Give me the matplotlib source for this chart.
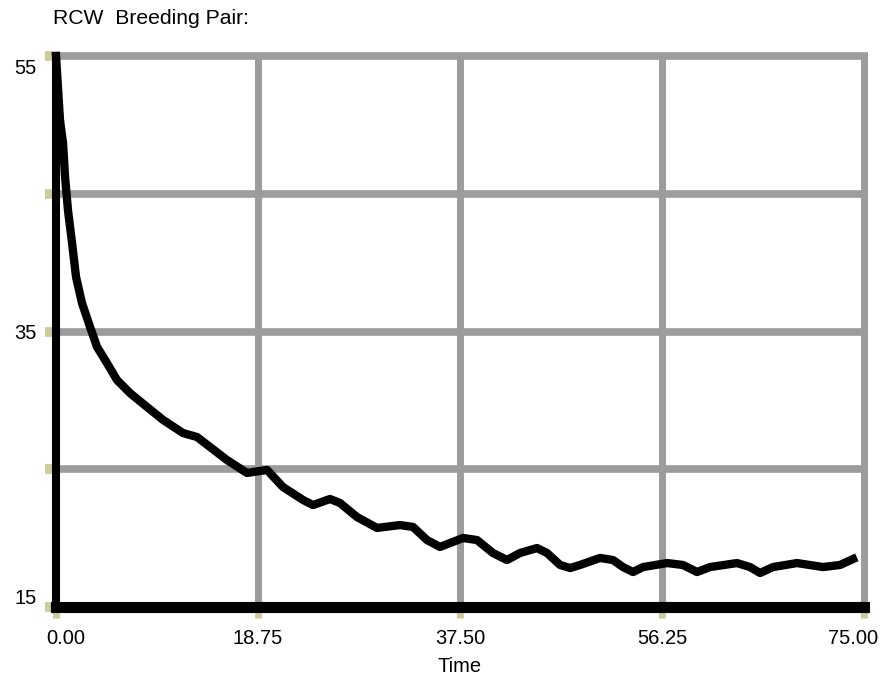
import matplotlib.pyplot as plt
from matplotlib.transforms import ScaledTranslation

plt.rcParams['font.family'] = ['Liberation Sans', 'DejaVu Sans']

# RCW breeding pairs over time
time = [0.0, 0.37, 0.65, 0.84, 1.11, 1.49, 1.86, 2.41, 3.16, 3.81, 4.73, 5.66,
        6.87, 8.45, 9.94, 11.79, 13.09, 14.29, 15.87, 17.73, 18.29, 19.59,
        21.07, 22.93, 23.86, 25.43, 26.36, 27.94, 29.80, 31.93, 33.14, 34.44,
        35.64, 37.78, 39.08, 40.56, 41.86, 43.07, 44.65, 45.58, 46.79, 47.72,
        48.64, 50.50, 51.70, 52.63, 53.56, 54.49, 56.72, 58.20, 59.50, 60.71,
        63.21, 64.42, 65.35, 66.56, 68.78, 71.20, 72.77, 73.98]
pairs = [55.0, 50.35, 48.68, 46.22, 43.82, 41.42, 38.96, 37.07, 35.33, 33.88,
         32.71, 31.48, 30.53, 29.52, 28.58, 27.63, 27.34, 26.62, 25.67, 24.73,
         24.80, 24.95, 23.71, 22.77, 22.40, 22.84, 22.55, 21.53, 20.74, 20.95,
         20.81, 19.86, 19.36, 20.01, 19.86, 18.92, 18.41, 18.92, 19.28, 18.92,
         18.05, 17.83, 18.05, 18.56, 18.41, 17.90, 17.54, 17.90, 18.19, 18.05,
         17.54, 17.90, 18.19, 17.90, 17.47, 17.90, 18.19, 17.90, 18.05, 18.48]

xticks = [0, 18.75, 37.5, 56.25, 75]
xlabels = ['0.00', '18.75', '37.50', '56.25', '75.00']
yticks = [15, 25, 35, 45, 55]
ylabels = ['15', '', '35', '', '55']

fig = plt.figure(figsize=(8.84, 6.76), dpi=100)
ax = fig.add_axes([56/884, 69/676, 808/884, 551/676])

grid_col = '#9c9c9c'
for yv in yticks[1:]:
    ax.axhline(yv, color=grid_col, lw=5.5, zorder=1, clip_on=False)
for xv in xticks[1:]:
    ax.axvline(xv, color=grid_col, lw=5.0, zorder=1, clip_on=False)

ax.plot(time, pairs, color='black', lw=6, zorder=3, clip_on=False)

ax.set_xlim(0, 75)
ax.set_ylim(15, 55)
ax.set_xticks(xticks)
ax.set_xticklabels(xlabels)
ax.set_yticks(yticks)
ax.set_yticklabels(ylabels)

for s in ['top', 'right']:
    ax.spines[s].set_visible(False)
ax.spines['left'].set_linewidth(5.8)
ax.spines['bottom'].set_linewidth(8)
ax.spines['left'].set_zorder(4)
ax.spines['bottom'].set_zorder(4)

tick_col = '#cbcb9c'
ax.tick_params(axis='y', length=8, width=7, color=tick_col, pad=6, labelsize=14.5)
ax.tick_params(axis='x', length=8, width=5, color=tick_col, pad=8, labelsize=14.5)

# end labels are pulled inside, as in the original
def shift(lbl, dx, dy):
    lbl.set_transform(lbl.get_transform() + ScaledTranslation(dx/100, dy/100, fig.dpi_scale_trans))

xl = ax.get_xticklabels()
shift(xl[0], 10, 0)
shift(xl[-1], -11, 0)
yl = ax.get_yticklabels()
shift(yl[0], 0, 11)
shift(yl[-1], 0, -10)

ax.set_xlabel('Time', fontsize=14.5, labelpad=6)
fig.text(53/884, 1 - 18/676, 'RCW  Breeding Pair:', fontsize=15.2, va='center', ha='left')

fig.savefig('out.png', dpi=100)
